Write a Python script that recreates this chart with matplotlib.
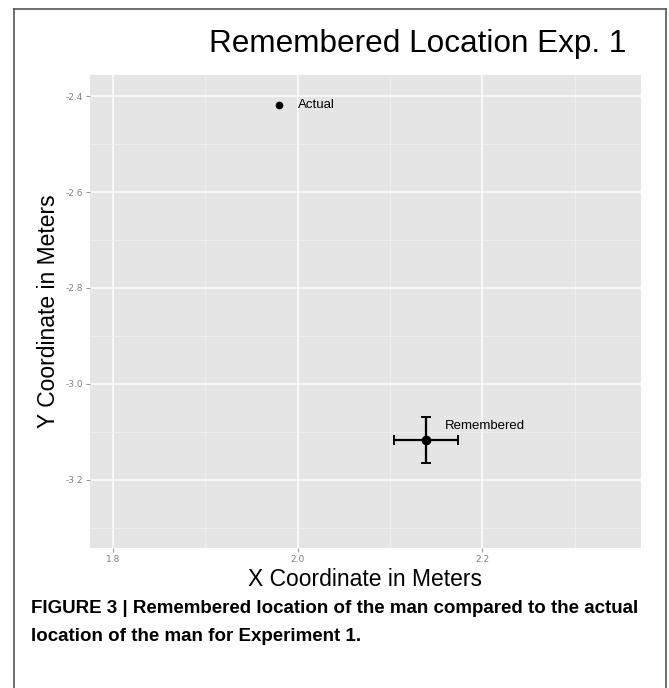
import matplotlib
matplotlib.use("Agg")
import matplotlib.pyplot as plt
from matplotlib.lines import Line2D

# Data
labels = ["Actual", "Remembered"]
x_vals = [1.98, 2.139]
y_vals = [-2.418, -3.117]
x_err = [0.0, 0.035]
y_err = [0.0, 0.048]
x_ticks = [1.8, 2.0, 2.2]
y_ticks = [-2.4, -2.6, -2.8, -3.0, -3.2]

W, H = 669, 688
fig = plt.figure(figsize=(W / 100, H / 100), dpi=100)
fig.patch.set_facecolor("white")

def fx(px):
    return px / W

def fy(py):
    return 1 - py / H

# panel: left 90, right 641, top 75, bottom 548
ax = fig.add_axes([fx(90), fy(548), fx(641) - fx(90), fy(75) - fy(548)])
ax.set_facecolor("#e5e5e5")
for s in ax.spines.values():
    s.set_visible(False)

ax.set_xlim(1.775, 2.372)
ax.set_ylim(-3.342, -2.356)

ax.set_xticks(x_ticks)
ax.set_xticklabels([f"{v:.1f}" for v in x_ticks])
ax.set_yticks(y_ticks)
ax.set_yticklabels([f"{v:.1f}" for v in y_ticks])
ax.set_xticks([1.9, 2.1, 2.3], minor=True)
ax.set_yticks([-2.5, -2.7, -2.9, -3.1, -3.3], minor=True)
ax.grid(True, which="major", color="white", linewidth=1.1)
ax.grid(True, which="minor", color="#f2f2f2", linewidth=0.5)
ax.set_axisbelow(True)
ax.tick_params(which="major", length=3, color="#7f7f7f", width=0.6,
               labelsize=6.5, labelcolor="#7f7f7f", pad=2)
ax.tick_params(which="minor", length=0)

# points
ax.errorbar(x_vals[1], y_vals[1], xerr=x_err[1], yerr=y_err[1], fmt="o",
            color="black", markersize=6, elinewidth=1.6, capsize=3.5, capthick=1.4)
ax.plot(x_vals[0], y_vals[0], "o", color="black", markersize=4.5)

ax.text(x_vals[0] + 0.02, y_vals[0], labels[0], fontsize=9.5,
        family="Liberation Sans", va="center", ha="left")
ax.text(x_vals[1] + 0.02, y_vals[1] + 0.03, labels[1], fontsize=9.5,
        family="Liberation Sans", va="center", ha="left")

ax.set_xlabel("X Coordinate in Meters", fontsize=16.5, family="Liberation Sans", labelpad=3)
ax.set_ylabel("Y Coordinate in Meters", fontsize=16.5, family="Liberation Sans", labelpad=4)

fig.text(fx(418), fy(52), "Remembered Location Exp. 1", fontsize=22.7,
         family="Liberation Sans", ha="center", va="baseline")

cap_fam = ["Liberation Sans Narrow", "Liberation Sans"]
fig.text(fx(31), fy(613), "FIGURE 3 | Remembered location of the man compared to the actual",
         fontsize=13.5, fontweight="bold", family=cap_fam, ha="left", va="baseline")
fig.text(fx(31), fy(641), "location of the man for Experiment 1.",
         fontsize=13.5, fontweight="bold", family=cap_fam, ha="left", va="baseline")

# outer border
border_color = "#555555"
fig.add_artist(Line2D([fx(14), fx(666)], [fy(9), fy(9)], color=border_color, lw=1.2))
fig.add_artist(Line2D([fx(14), fx(14)], [fy(9), fy(688)], color=border_color, lw=1.2))
fig.add_artist(Line2D([fx(666), fx(666)], [fy(9), fy(688)], color=border_color, lw=1.2))

fig.savefig("out.png", dpi=100)
